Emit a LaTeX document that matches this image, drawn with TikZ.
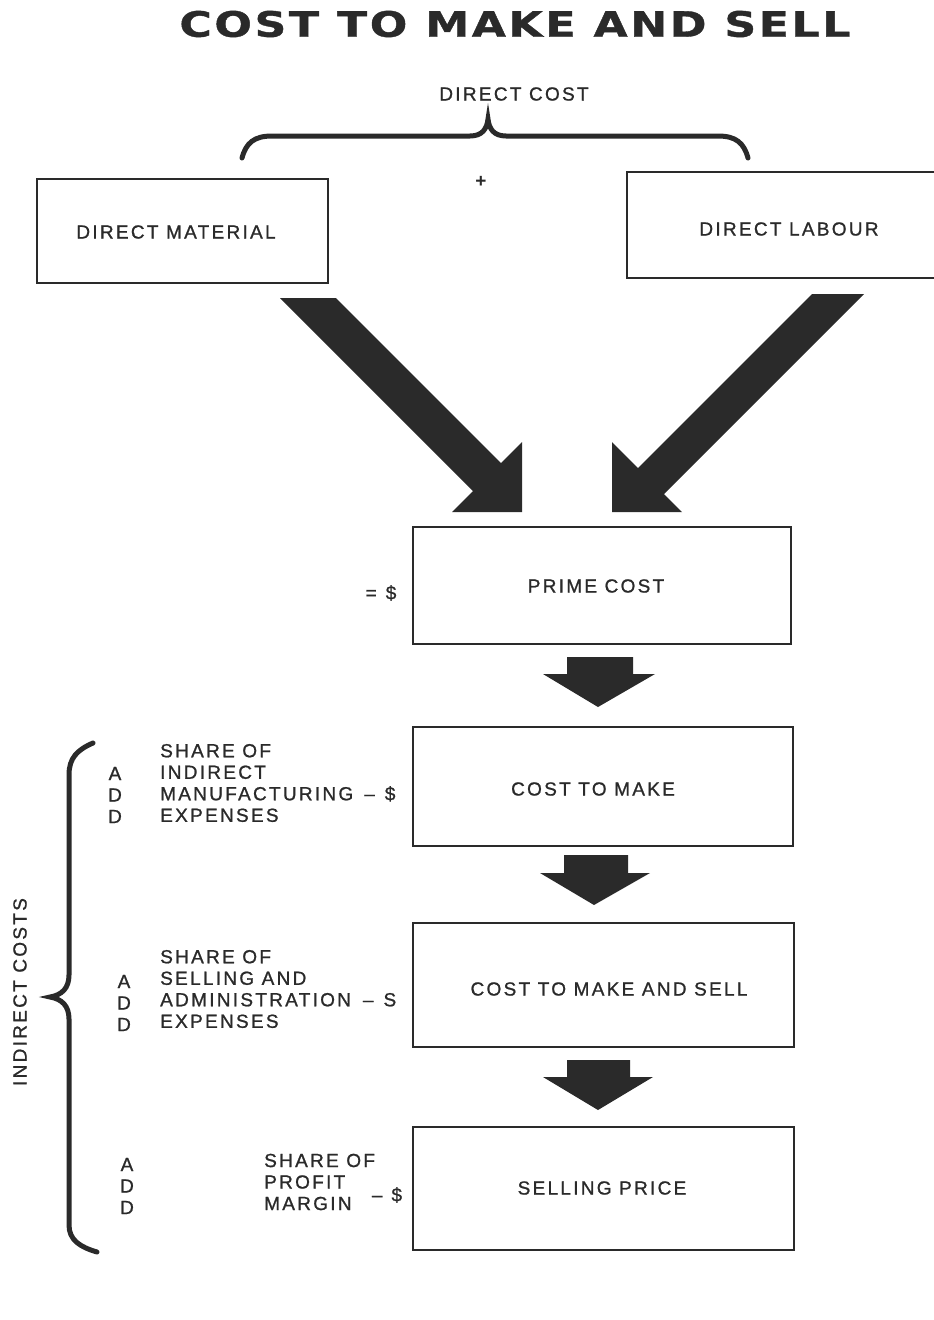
\documentclass[tikz,border=0pt]{standalone}
\usepackage{fontspec}
\setmainfont{Liberation Sans}
\newfontfamily\lblfont[LetterSpace=12,FakeBold=1]{Liberation Sans}
\newfontfamily\ttlfont[LetterSpace=6,FakeBold=1]{DejaVu Sans}
\definecolor{ink}{HTML}{2A2A2A}
\begin{document}
\begin{tikzpicture}[x=1pt,y=-1pt,
  boxline/.style={draw=ink, line width=1.6pt},
  costbox/.style={boxline, inner sep=0pt},
  lab/.style={text=ink, font=\lblfont\fontsize{19pt}{21.5pt}\selectfont, inner sep=0pt},
  bracepath/.style={draw=ink, line width=5pt, line cap=round},
  blockarrow/.style={fill=ink}]
\useasboundingbox (0,0) rectangle (934,1320);

% title
\node[text=ink, font=\ttlfont\bfseries\fontsize{35pt}{36pt}\selectfont, inner sep=0pt] (title) at (515,24) {\scalebox{1.26}[1]{COST TO MAKE AND SELL}};

% direct cost brace
\node[lab] (dc) at (514,94) {DIRECT COST};
\draw[bracepath] (242,158) .. controls (246,143) and (254,136) .. (272,136) -- (470,136) .. controls (482,136) and (487,129) .. (488,119) .. controls (489,129) and (494,136) .. (506,136) -- (718,136) .. controls (736,136) and (744,143) .. (748,158);
\node[text=ink, font=\bfseries\fontsize{19pt}{20pt}\selectfont, inner sep=0pt] (plus) at (481,182) {+};

% top boxes
\node[costbox, minimum width=291pt, minimum height=104pt] (dmbox) at (182.5,231) {};
\node[lab] (dm) at (176,232) {DIRECT MATERIAL};
\coordinate (dlnw) at (934,172);
\coordinate (dlsw) at (934,278);
\draw[boxline] (dlnw) -| (627,278) -- (dlsw);
\node[lab] (dl) at (789,229) {DIRECT LABOUR};

% big diagonal arrows
\fill[blockarrow] (280,298) -- (336,298) -- (501,463) -- (522,442) -- (522,512) -- (452,512) -- (473,491) -- cycle;
\fill[blockarrow] (812,294) -- (864,294) -- (664,494) -- (682,512) -- (612,512) -- (612,442) -- (638,468) -- cycle;

% prime cost
\node[costbox, minimum width=378pt, minimum height=117pt] (pbox) at (602,585.5) {};
\node[lab] (pc) at (596,586) {PRIME COST};
\node[lab] (peq) at (381,593) {=\hspace{9pt}\$};

% small arrows
\fill[blockarrow] (567,657) -- (633,657) -- (633,674) -- (655,674) -- (598,707) -- (543,674) -- (567,674) -- cycle;
\fill[blockarrow] (564,855) -- (628,855) -- (628,873) -- (650,873) -- (594,905) -- (540,873) -- (564,873) -- cycle;
\fill[blockarrow] (567,1060) -- (630,1060) -- (630,1077) -- (653,1077) -- (598,1110) -- (543,1077) -- (567,1077) -- cycle;

% cost to make
\node[costbox, minimum width=380pt, minimum height=119pt] (mbox) at (603,786.5) {};
\node[lab] (cm) at (593,789) {COST TO MAKE};
\node[lab, anchor=west, align=left] (g1) at (160,783) {SHARE OF\\INDIRECT\\MANUFACTURING\hspace{11pt}\textendash\hspace{10pt}\$\\EXPENSES};
\node[lab, align=center] (add1) at (115,795) {A\\D\\D};

% cost to make and sell
\node[costbox, minimum width=381pt, minimum height=124pt] (msbox) at (603.5,985) {};
\node[lab] (cms) at (609,989) {COST TO MAKE AND SELL};
\node[lab, anchor=west, align=left] (g2) at (160,989) {SHARE OF\\SELLING AND\\ADMINISTRATION\hspace{12pt}\textendash\hspace{10pt}S\\EXPENSES};
\node[lab, align=center] (add2) at (124,1003) {A\\D\\D};

% selling price
\node[costbox, minimum width=381pt, minimum height=123pt] (spbox) at (603.5,1188.5) {};
\node[lab] (sp) at (602,1188) {SELLING PRICE};
\node[lab, anchor=west, align=left] (g3) at (264,1182) {SHARE OF\\PROFIT\\MARGIN};
\node[lab] (g3d) at (387,1195) {\textendash\hspace{9pt}\$};
\node[lab, align=center] (add3) at (127,1186) {A\\D\\D};

% indirect costs brace
\draw[bracepath] (93,743) .. controls (77,750) and (69,758) .. (69,775) -- (69,975) .. controls (69,988) and (62,995) .. (50,997) .. controls (62,999) and (69,1006) .. (69,1019) -- (69,1225) .. controls (69,1240) and (80,1247) .. (97,1252);
\node[lab, rotate=90] (ic) at (20,992) {INDIRECT COSTS};
\end{tikzpicture}
\end{document}
